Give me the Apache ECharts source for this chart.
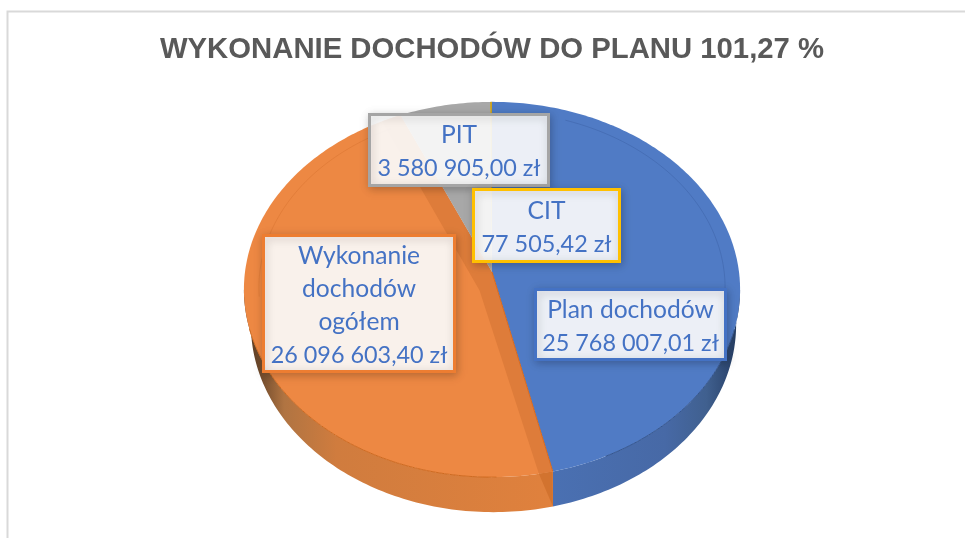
<!DOCTYPE html>
<html><head><meta charset="utf-8">
<style>html,body{margin:0;padding:0;background:#fff}#c{width:965px;height:538px}</style>
<script src="https://cdn.jsdelivr.net/npm/echarts@6/dist/echarts.min.js"></script>
</head><body><div id="c"></div>
<script>
var chartTitle = 'WYKONANIE DOCHODÓW DO PLANU 101,27 %';
var categories = ['Plan dochodów', 'Wykonanie\ndochodów\nogółem', 'PIT', 'CIT'];
var values = [25768007.01, 26096603.40, 3580905.00, 77505.42];
var valueTexts = ['25 768 007,01 zł', '26 096 603,40 zł', '3 580 905,00 zł', '77 505,42 zł'];

var faceColors = ['#507bc5', '#ed8843', '#a8a8a8', '#c9a227'];
var borderColors = ['#4472c4', '#ed7d31', '#a5a5a5', '#ffc000'];
var labelBoxes = [[534, 288, 193, 73], [262, 234, 194, 139], [368, 113, 182, 74], [472, 188, 149, 75]];

var P = {cx: 492, cy: 272, a: 247, b: 186, k: 0.0933, depth: 35, lowScale: 0.978, lowShift: 1.5};
var total = values.reduce(function (s, v) { return s + v; }, 0);
var starts = [], acc = 0;
values.forEach(function (v) { starts.push(acc / total * 360); acc += v; });
function proj(r, deg) {
  var t = deg * Math.PI / 180, u = r * Math.sin(t), v = -r * Math.cos(t), w = 1 - P.k * v;
  return [P.cx + P.a * u / w, P.cy + P.b * v / w];
}
function low(deg) {
  var p = proj(1, deg);
  return [P.cx + P.lowShift + (p[0] - P.cx) * P.lowScale, p[1] + P.depth];
}
function arc(fn, a0, a1) {
  var n = Math.max(2, Math.ceil(Math.abs(a1 - a0))), pts = [];
  for (var i = 0; i <= n; i++) pts.push(fn(a0 + (a1 - a0) * i / n));
  return pts;
}
function rim(r) { return function (d) { return proj(r, d); }; }
var L = echarts.graphic.LinearGradient;
var wallFills = {
  0: new L(0, 0, 1, 0, [{offset: 0, color: '#4a70b2'}, {offset: .6, color: '#4769a6'}, {offset: .82, color: '#40608f'}, {offset: .95, color: '#2c466f'}, {offset: 1, color: '#1f3558'}]),
  1: new L(0, 0, 1, 0, [{offset: 0, color: '#4f3420'}, {offset: .05, color: '#6f4a2c'}, {offset: .13, color: '#b07442'}, {offset: .3, color: '#d07c3e'}, {offset: 1, color: '#e0813d'}])
};
function pieItem(params, api) {
  var i = params.dataIndex, a0 = starts[i], a1 = a0 + values[i] / total * 360, kids = [];
  var w0 = Math.max(a0, 95.4), w1 = Math.min(a1, 264.6);
  if (w1 > w0) {
    kids.push({type: 'polygon', shape: {points: arc(rim(1), w0, w1).concat(arc(low, w1, w0))}, style: {fill: wallFills[i] || faceColors[i]}});
  }
  kids.push({type: 'polygon', shape: {points: [proj(0, 0)].concat(arc(rim(1), a0, a1))}, style: {fill: faceColors[i]}});
  if (w1 > w0) {
    kids.push({type: 'polyline', shape: {points: arc(rim(1), w0 + 12, w1 - 12)}, style: {fill: null, stroke: i === 0 ? '#35568f' : '#cf6a20', lineWidth: 1}});
  }
  if (i === 1) {
    var band = [proj(0, 0), proj(1, a0), proj(1, a0 + 3), proj(0.11, 207), proj(1, a1 - 5), proj(1, a1)];
    kids.push({type: 'polygon', shape: {points: band}, style: {fill: '#de7c3a'}});
    kids.push({type: 'polygon', shape: {points: [proj(1, a0), proj(1, a0 + 3), low(a0)]}, style: {fill: '#d2732f'}});
    kids.push({type: 'polyline', shape: {points: [proj(0, 0), proj(1, a0)]}, style: {fill: null, stroke: '#d56a22', lineWidth: 1}});
  }
  if (i < 2) {
    var bev = i === 0 ? arc(rim(0.94), 20, 108) : arc(rim(0.94), 262, 332);
    kids.push({type: 'polyline', shape: {points: bev}, style: {fill: null, stroke: i === 0 ? 'rgba(50,85,150,0.32)' : 'rgba(205,105,40,0.35)', lineWidth: 1}});
  }
  return {type: 'group', children: kids};
}
function labelItem(params, api) {
  var i = params.dataIndex, b = labelBoxes[i];
  var lines = categories[i].split('\n').map(function (s) { return '{n|' + s + '}'; });
  lines.push('{v|' + valueTexts[i] + '}');
  return {type: 'group', children: [
    {type: 'rect', shape: {x: b[0] + 1.5, y: b[1] + 1.5, width: b[2] - 3, height: b[3] - 3},
      style: {fill: 'rgba(255,255,255,0.9)', stroke: borderColors[i], lineWidth: 3, shadowBlur: 8, shadowColor: 'rgba(0,0,0,0.22)', shadowOffsetX: 1, shadowOffsetY: 2}},
    {type: 'text', x: b[0] + b[2] / 2, y: b[1] + b[3] / 2 + 2, style: {
      text: lines.join('\n'), fill: '#4472c4', align: 'center', verticalAlign: 'middle',
      rich: {
        n: {fill: '#4472c4', font: '400 24.6px Lato', lineHeight: 33},
        v: {fill: '#4472c4', font: '400 23.4px Lato', lineHeight: 33}
      }}}
  ]};
}
var indices = values.map(function (v, i) { return i; });
var chart = echarts.init(document.getElementById('c'), null, {renderer: 'canvas'});
chart.setOption({
  animation: false, backgroundColor: '#fff',
  title: {text: chartTitle, left: 487, top: 30, textAlign: 'center',
    textStyle: {fontFamily: 'Liberation Sans', fontSize: 29.3, fontWeight: 'bold', color: '#595959'}},
  graphic: [
    {type: 'polyline', z: 0, shape: {points: [[7.5, 538], [7.5, 11.5], [965, 11.5]]}, style: {fill: null, stroke: '#d9d9d9', lineWidth: 2}}
  ],
  series: [
    {type: 'custom', coordinateSystem: 'none', z: 2, data: indices, renderItem: pieItem, silent: true},
    {type: 'custom', coordinateSystem: 'none', z: 3, data: indices, renderItem: labelItem, silent: true}
  ]
});
</script></body></html>
